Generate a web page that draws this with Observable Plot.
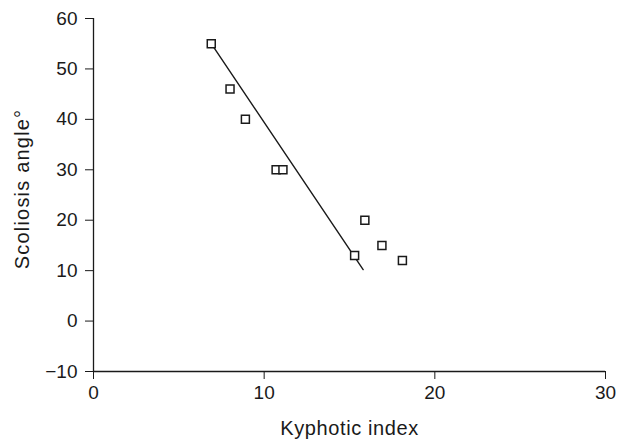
<!DOCTYPE html>
<html>
<head>
<meta charset="utf-8">
<script src="https://cdn.jsdelivr.net/npm/d3@7"></script>
<script src="https://cdn.jsdelivr.net/npm/@observablehq/plot@0.6"></script>
<style>
  html, body { margin: 0; padding: 0; background: #fff; }
  svg { display: block; }
</style>
</head>
<body>
<div id="chart"></div>
<script>
const kyphoticIndex = [6.9, 8, 8.9, 10.7, 11.1, 15.3, 15.9, 16.9, 18.1];
const scoliosisAngle = [55, 46, 40, 30, 30, 13, 20, 15, 12];
const fitX = [6.9, 15.8];
const fitY = [55, 10.2];
const xTicks = [0, 10, 20, 30];
const yTicks = [-10, 0, 10, 20, 30, 40, 50, 60];
const xLabel = "Kyphotic index";
const yLabel = "Scoliosis angle°";

const points = kyphoticIndex.map((x, i) => ({x, y: scoliosisAngle[i]}));
const fit = fitX.map((x, i) => ({x, y: fitY[i]}));

const ink = "#1a1a1a";
const font = "Liberation Sans, Arial, Helvetica, sans-serif";

const chart = Plot.plot({
  width: 629,
  height: 441,
  marginLeft: 93,
  marginRight: 24,
  marginTop: 18,
  marginBottom: 70,
  style: {fontFamily: font, background: "#fff", color: ink},
  x: {domain: [0, 30]},
  y: {domain: [-10, 60]},
  marks: [
    Plot.axisX(xTicks, {tickSize: 8, tickPadding: 6, fontSize: 19, stroke: ink, fill: ink, label: null, tickFormat: d => d}),
    Plot.axisY(yTicks, {tickSize: 8, tickPadding: 8, fontSize: 19, stroke: ink, fill: ink, label: null}),
    Plot.ruleY([-10], {stroke: ink, strokeWidth: 1.3}),
    Plot.ruleX([0], {stroke: ink, strokeWidth: 1.3}),
    Plot.text([xLabel], {frameAnchor: "bottom", textAnchor: "middle", lineAnchor: "middle", dy: 57, text: d => d, fontSize: 20, fill: ink}),
    Plot.text([yLabel], {frameAnchor: "left", textAnchor: "middle", lineAnchor: "middle", dx: -71, dy: -6, rotate: -90, text: d => d, fontSize: 20, fill: ink}),
    Plot.line(fit, {x: "x", y: "y", stroke: ink, strokeWidth: 1.4}),
    Plot.dot(points, {x: "x", y: "y", symbol: "square", r: 4.5, fill: "#fff", stroke: ink, strokeWidth: 1.5})
  ]
});
d3.select(chart).selectAll("text").each(function() {
  const t = d3.select(this);
  if (t.text() === xLabel) t.style("letter-spacing", "0.6px");
  if (t.text() === yLabel) t.style("letter-spacing", "1.2px");
});
document.getElementById("chart").appendChild(chart);
</script>
</body>
</html>
